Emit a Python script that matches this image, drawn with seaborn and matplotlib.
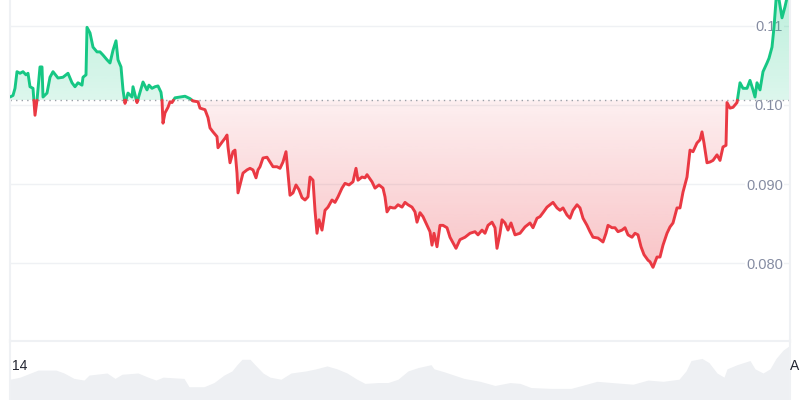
import numpy as np
import pandas as pd
import matplotlib
matplotlib.use('Agg')
import matplotlib.pyplot as plt
from matplotlib.path import Path
from matplotlib.colors import to_rgb
import seaborn as sns

# ── Data ──────────────────────────────────────────────────────────────────────
# time in hours since the 14th, price in USD
hours = [0, 3, 5, 7, 10, 13, 16, 18, 20, 23, 25, 27, 30, 32, 33, 37, 40, 43, 48, 53,
         58, 62, 65, 68, 72, 73, 76, 77, 80, 83, 87, 90, 93, 97, 100, 103, 106, 108, 111, 113,
         115, 118, 122, 123, 127, 130, 133, 137, 139, 142, 145, 148, 151, 152, 153, 155, 158, 160, 162, 165,
         170, 175, 180, 183, 188, 190, 195, 198, 200, 203, 207, 208, 212, 215, 217, 218, 220, 223, 225, 227,
         228, 230, 233, 237, 240, 243, 246, 248, 250, 253, 257, 260, 263, 267, 270, 273, 276, 278, 280, 283,
         286, 289, 292, 295, 298, 300, 303, 305, 307, 309, 312, 315, 318, 322, 325, 328, 332, 335, 339, 343,
         346, 348, 352, 355, 357, 362, 365, 369, 373, 375, 377, 380, 383, 385, 388, 392, 395, 398, 402, 405,
         407, 410, 413, 417, 420, 422, 424, 427, 430, 433, 437, 440, 443, 446, 450, 455, 460, 465, 468, 472,
         475, 478, 482, 485, 487, 490, 492, 495, 498, 501, 505, 510, 515, 520, 523, 527, 530, 533, 537, 540,
         543, 547, 550, 553, 557, 560, 563, 567, 570, 573, 577, 580, 583, 588, 593, 596, 598, 602, 605, 608,
         612, 615, 618, 622, 625, 628, 631, 634, 638, 640, 643, 647, 650, 653, 657, 660, 663, 667, 670, 673,
         677, 680, 683, 687, 690, 692, 694, 697, 700, 703, 707, 710, 713, 716, 717, 720, 723, 727, 730, 733,
         737, 740, 743, 745, 747, 750, 753, 757, 759, 762, 764, 766, 768, 772, 775, 778, 780]

prices = [0.1010, 0.1012, 0.1021, 0.1042, 0.1040, 0.1042, 0.1038, 0.1040, 0.1023, 0.1021,
          0.0987, 0.1006, 0.1048, 0.1048, 0.1010, 0.1015, 0.1035, 0.1042, 0.1034, 0.1035,
          0.1040, 0.1028, 0.1023, 0.1028, 0.1025, 0.1035, 0.1038, 0.1098, 0.1091, 0.1073,
          0.1067, 0.1067, 0.1063, 0.1057, 0.1053, 0.1069, 0.1081, 0.1057, 0.1048, 0.1019,
          0.1002, 0.1015, 0.1010, 0.1023, 0.1003, 0.1016, 0.1029, 0.1019, 0.1025, 0.1021,
          0.1023, 0.1024, 0.1016, 0.1006, 0.0977, 0.0990, 0.0997, 0.1004, 0.1003, 0.1009,
          0.1010, 0.1011, 0.1008, 0.1005, 0.1004, 0.0996, 0.0994, 0.0984, 0.0971, 0.0966,
          0.0960, 0.0946, 0.0953, 0.0958, 0.0962, 0.0947, 0.0927, 0.0941, 0.0943, 0.0914,
          0.0889, 0.0899, 0.0914, 0.0918, 0.0920, 0.0918, 0.0908, 0.0918, 0.0922, 0.0933,
          0.0934, 0.0928, 0.0922, 0.0922, 0.0920, 0.0928, 0.0941, 0.0914, 0.0886, 0.0889,
          0.0899, 0.0893, 0.0883, 0.0880, 0.0884, 0.0909, 0.0905, 0.0867, 0.0838, 0.0855,
          0.0842, 0.0867, 0.0871, 0.0880, 0.0877, 0.0884, 0.0895, 0.0901, 0.0899, 0.0903,
          0.0920, 0.0905, 0.0909, 0.0908, 0.0912, 0.0903, 0.0895, 0.0899, 0.0895, 0.0884,
          0.0865, 0.0871, 0.0870, 0.0870, 0.0874, 0.0871, 0.0877, 0.0874, 0.0871, 0.0865,
          0.0852, 0.0864, 0.0859, 0.0848, 0.0840, 0.0823, 0.0838, 0.0821, 0.0848, 0.0848,
          0.0845, 0.0833, 0.0826, 0.0819, 0.0830, 0.0833, 0.0838, 0.0840, 0.0836, 0.0842,
          0.0838, 0.0848, 0.0852, 0.0845, 0.0819, 0.0838, 0.0855, 0.0851, 0.0842, 0.0851,
          0.0836, 0.0838, 0.0846, 0.0851, 0.0845, 0.0857, 0.0859, 0.0864, 0.0871, 0.0874,
          0.0877, 0.0870, 0.0867, 0.0870, 0.0861, 0.0857, 0.0867, 0.0874, 0.0870, 0.0857,
          0.0848, 0.0840, 0.0833, 0.0832, 0.0827, 0.0838, 0.0848, 0.0845, 0.0845, 0.0840,
          0.0842, 0.0845, 0.0836, 0.0833, 0.0838, 0.0836, 0.0821, 0.0811, 0.0804, 0.0802,
          0.0795, 0.0808, 0.0808, 0.0823, 0.0838, 0.0846, 0.0851, 0.0870, 0.0870, 0.0890,
          0.0909, 0.0943, 0.0941, 0.0952, 0.0956, 0.0966, 0.0952, 0.0927, 0.0928, 0.0930,
          0.0937, 0.0930, 0.0947, 0.0949, 0.1003, 0.0996, 0.0997, 0.1003, 0.1028, 0.1021,
          0.1021, 0.1031, 0.1019, 0.1010, 0.1028, 0.1019, 0.1042, 0.1053, 0.1059, 0.1073,
          0.1098, 0.1132, 0.1141, 0.1110, 0.1124, 0.1141, 0.1150]

open_price = 0.1006

vol_hours = [0, 10, 28, 46, 54, 64, 74, 79, 97, 105, 112, 128, 138, 146, 153, 174, 179, 194, 204, 214,
             222, 227, 232, 240, 245, 253, 260, 271, 281, 296, 306, 317, 327, 337, 347, 355, 368, 378, 388, 398,
             408, 421, 424, 434, 444, 454, 470, 485, 500, 510, 521, 541, 561, 572, 587, 602, 623, 638, 653, 669,
             676, 681, 692, 699, 707, 714, 717, 727, 740, 745, 753, 760, 766, 773, 780]
volume = [50, 55, 72, 72, 65, 52, 48, 60, 65, 52, 62, 65, 55, 48, 55, 52, 32, 32, 42, 60,
          70, 85, 98, 98, 85, 65, 55, 50, 65, 70, 75, 82, 75, 65, 50, 40, 42, 42, 50, 70,
          78, 85, 75, 68, 60, 52, 45, 35, 42, 40, 30, 28, 28, 35, 45, 42, 38, 48, 45, 50,
          70, 95, 100, 90, 65, 55, 75, 85, 95, 75, 65, 75, 100, 120, 132]

y_ticks = [0.080, 0.090, 0.100, 0.110]
y_tick_labels = ['0.080', '0.090', '0.10', '0.11']
x_labels = ['14', 'A']

GREEN = '#16c784'
RED = '#ea3943'
GRID = '#eff1f4'

# ── Split the price line into up / down runs around the open price ────────────
rows = []
seg = 0
prev_side = None
for i, (t, p) in enumerate(zip(hours, prices)):
    side = 'up' if p >= open_price else 'down'
    if prev_side is not None and side != prev_side:
        t0, p0 = hours[i - 1], prices[i - 1]
        tc = t0 + (open_price - p0) * (t - t0) / (p - p0)
        rows.append((tc, open_price, prev_side, seg))
        seg += 1
        rows.append((tc, open_price, side, seg))
    rows.append((t, p, side, seg))
    prev_side = side
df = pd.DataFrame(rows, columns=['hours', 'price', 'side', 'seg'])

# ── Figure ────────────────────────────────────────────────────────────────────
sns.set_theme(style='white')
plt.rcParams['font.family'] = ['Liberation Sans', 'DejaVu Sans']

fig = plt.figure(figsize=(8, 4), dpi=100)
ax = fig.add_axes([10 / 800, 59 / 400, 780 / 800, 341 / 400])
axv = fig.add_axes([10 / 800, 0, 780 / 800, 59 / 400])
axv.set_zorder(0)
ax.set_zorder(1)
ax.patch.set_alpha(0)

# volume panel
axv.fill_between(vol_hours, volume, 0, color='#eef0f3', lw=0)
axv.set_xlim(0, 780)
axv.set_ylim(0, 142)
axv.set_xticks([])
axv.set_yticks([])
for s in ['top', 'bottom']:
    axv.spines[s].set_visible(False)
for s in ['left', 'right']:
    axv.spines[s].set_color(GRID)
    axv.spines[s].set_linewidth(1.5)
axv.text(0.002, 0.58, x_labels[0], transform=axv.transAxes, ha='left', va='center',
         fontsize=10, color='#222531')
axv.text(1.0, 0.58, x_labels[1], transform=axv.transAxes, ha='left', va='center',
         fontsize=10, color='#222531', clip_on=False)

# gradient fills above / below the open price
t_arr = np.array(hours, dtype=float)
p_arr = np.array(prices)


def gradient_fill(mask, color, far, a_near, a_far):
    coll = ax.fill_between(t_arr, p_arr, open_price, where=mask, interpolate=True,
                           facecolor='none', edgecolor='none')
    path = Path.make_compound_path(*coll.get_paths())
    rgb = to_rgb(color)
    img = np.zeros((100, 1, 4))
    img[:, :, :3] = rgb
    lo, hi = sorted([open_price, far])
    alphas = np.linspace(a_near, a_far, 100) if far > open_price else np.linspace(a_far, a_near, 100)
    img[:, 0, 3] = alphas
    im = ax.imshow(img, aspect='auto', origin='lower', extent=[0, 780, lo, hi], zorder=1)
    im.set_clip_path(path, ax.transData)


gradient_fill(p_arr >= open_price, GREEN, 0.1135, 0.15, 0.28)
gradient_fill(p_arr <= open_price, RED, 0.0795, 0.08, 0.30)

sns.lineplot(data=df, x='hours', y='price', hue='side', units='seg', estimator=None,
             sort=False, palette={'up': GREEN, 'down': RED}, linewidth=2.1,
             legend=False, ax=ax, zorder=3)

ax.axhline(open_price, color='#9aa0a8', lw=1, linestyle=(0, (1, 3)), zorder=2)

ax.set_xlim(0, 780)
ax.set_ylim(0.0702, 0.11325)
ax.set_xlabel('')
ax.set_ylabel('')
ax.set_xticks([])
ax.set_yticks(y_ticks)
ax.set_yticklabels(y_tick_labels)
ax.grid(axis='y', color=GRID, lw=1)
ax.yaxis.tick_right()
ax.tick_params(axis='y', length=0, pad=-5, labelsize=10.5, labelcolor='#858ca2')
for lbl in ax.get_yticklabels():
    lbl.set_ha('right')
    lbl.set_bbox(dict(facecolor='white', edgecolor='none', pad=0.5))
ax.spines['top'].set_visible(False)
for s in ['left', 'right', 'bottom']:
    ax.spines[s].set_color(GRID)
    ax.spines[s].set_linewidth(1.5)

fig.savefig('out.png', dpi=100)
